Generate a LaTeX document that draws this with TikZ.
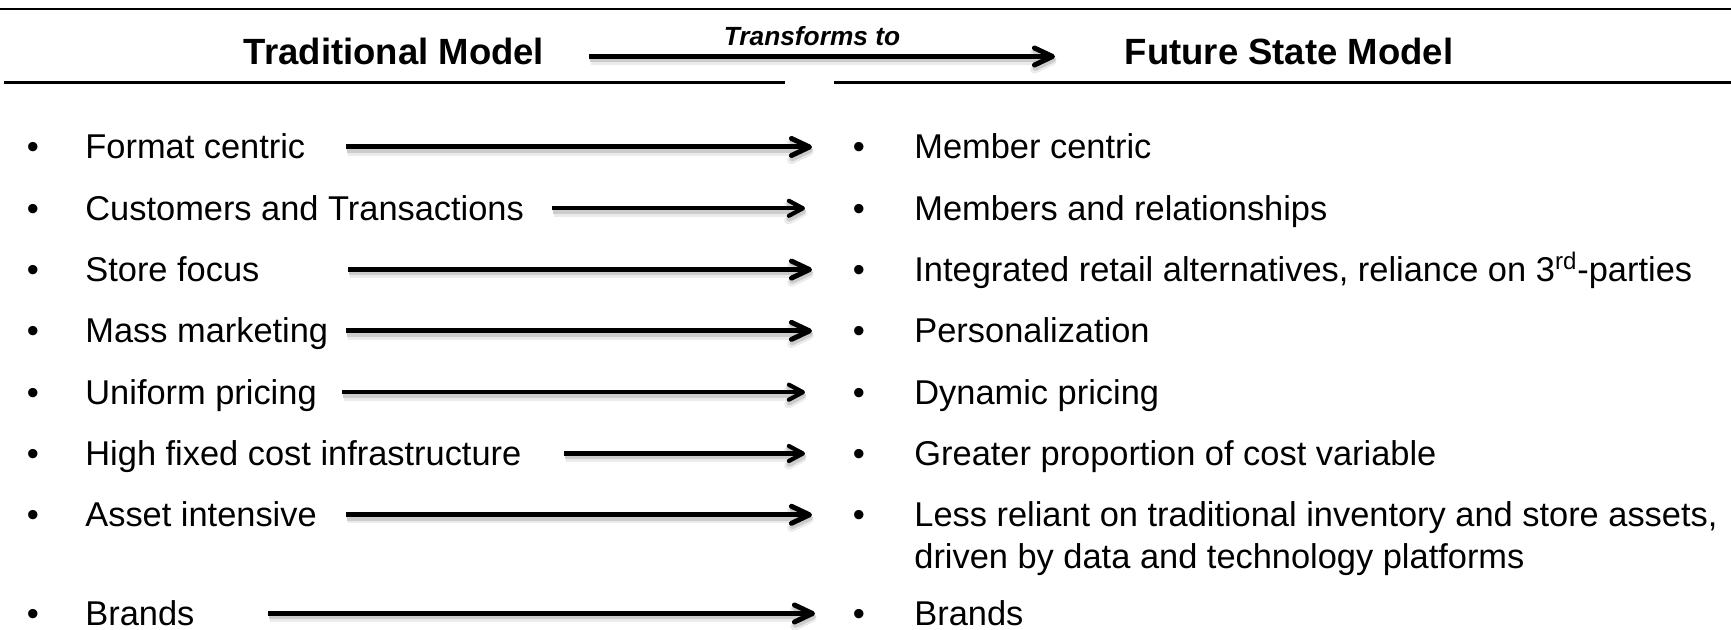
\documentclass[tikz,border=0pt]{standalone}
\usepackage{fontspec}
\setmainfont{Liberation Sans}
\usetikzlibrary{arrows.meta}
\begin{document}
\begin{tikzpicture}[x=0.5pt,y=-0.5pt,
  body/.style={anchor=base west,inner sep=0pt,font=\fontsize{17.2}{20.6}\selectfont},
  dot/.style={anchor=base,inner sep=0pt,font=\fontsize{17.2}{20.6}\selectfont},
  head/.style={anchor=base,inner sep=0pt,font=\fontsize{18.25}{22}\selectfont\bfseries},
  rule/.style={line width=1.2pt,black},
  shade/.style={
    preaction={draw=black!8,line width=4.2pt,transform canvas={shift={(1.5,4.5)}}},
    preaction={draw=black!20,line width=2.8pt,transform canvas={shift={(1,3)}}}},
  longarrow/.style={shade,line width=2.5pt,-{Straight Barb[length=9pt,width=8.5pt,round]}},
  shortarrow/.style={shade,line width=2.1pt,-{Straight Barb[length=7pt,width=7.5pt,round]}},
]
\useasboundingbox (0,0) rectangle (1731,630);

% header rules
\draw[line width=1pt] (0,9) -- (1731,9);
\draw[rule] (4,82.5) -- (785,82.5);
\draw[rule] (834,82.5) -- (1731,82.5);

% header titles
\node[head] (trad) at (394,65) {Traditional Model};
\node[head] (fut)  at (1289,65) {Future State Model};
\node[anchor=base,inner sep=0pt,font=\fontsize{13.15}{16}\selectfont\bfseries\itshape] (tlabel) at (812,46) {Transforms to};
\coordinate (hs) at (589,56.5);
\coordinate (he) at (1055,56.5);
\draw[longarrow] (hs) -- (he);

% left column
\node[dot] (lb1) at (33,159)   {•}; \node[body] (L1) at (85,159)   {Format centric};
\node[dot] (lb2) at (33,220.3) {•}; \node[body] (L2) at (85,220.3) {Customers and Transactions};
\node[dot] (lb3) at (33,281.6) {•}; \node[body] (L3) at (85,281.6) {Store focus};
\node[dot] (lb4) at (33,342.9) {•}; \node[body] (L4) at (85,342.9) {Mass marketing};
\node[dot] (lb5) at (33,404.2) {•}; \node[body] (L5) at (85,404.2) {Uniform pricing};
\node[dot] (lb6) at (33,465.5) {•}; \node[body] (L6) at (85,465.5) {High fixed cost infrastructure};
\node[dot] (lb7) at (33,526.8) {•}; \node[body] (L7) at (85,526.8) {Asset intensive};
\node[dot] (lb8) at (33,625.5) {•}; \node[body] (L8) at (85,625.5) {Brands};

% right column
\node[dot] (rb1) at (859,159)   {•}; \node[body] (R1) at (914,159)   {Member centric};
\node[dot] (rb2) at (859,220.3) {•}; \node[body] (R2) at (914,220.3) {Members and relationships};
\node[dot] (rb3) at (859,281.6) {•}; \node[body] (R3) at (914,281.6) {Integrated retail alternatives, reliance on 3\textsuperscript{rd}-parties};
\node[dot] (rb4) at (859,342.9) {•}; \node[body] (R4) at (914,342.9) {Personalization};
\node[dot] (rb5) at (859,404.2) {•}; \node[body] (R5) at (914,404.2) {Dynamic pricing};
\node[dot] (rb6) at (859,465.5) {•}; \node[body] (R6) at (914,465.5) {Greater proportion of cost variable};
\node[dot] (rb7) at (859,526.8) {•}; \node[body] (R7) at (914,526.8) {Less reliant on traditional inventory and store assets,};
\node[body] (R7b) at (914,568.1) {driven by data and technology platforms};
\node[dot] (rb8) at (859,625.5) {•}; \node[body] (R8) at (914,625.5) {Brands};

% arrow ends
\coordinate (s1) at (346,147);   \coordinate (t1) at (812,147);
\coordinate (s2) at (552,208.3); \coordinate (t2) at (805,208.3);
\coordinate (s3) at (348,269.6); \coordinate (t3) at (812,269.6);
\coordinate (s4) at (346,330.9); \coordinate (t4) at (812,330.9);
\coordinate (s5) at (342,392.2); \coordinate (t5) at (805,392.2);
\coordinate (s6) at (564,453.5); \coordinate (t6) at (805,453.5);
\coordinate (s7) at (346,514.8); \coordinate (t7) at (812,514.8);
\coordinate (s8) at (268,613.5); \coordinate (t8) at (815,613.5);

\draw[longarrow]  (s1) -- (t1);
\draw[shortarrow] (s2) -- (t2);
\draw[longarrow]  (s3) -- (t3);
\draw[longarrow]  (s4) -- (t4);
\draw[shortarrow] (s5) -- (t5);
\draw[shortarrow] (s6) -- (t6);
\draw[longarrow]  (s7) -- (t7);
\draw[longarrow]  (s8) -- (t8);
\end{tikzpicture}
\end{document}
